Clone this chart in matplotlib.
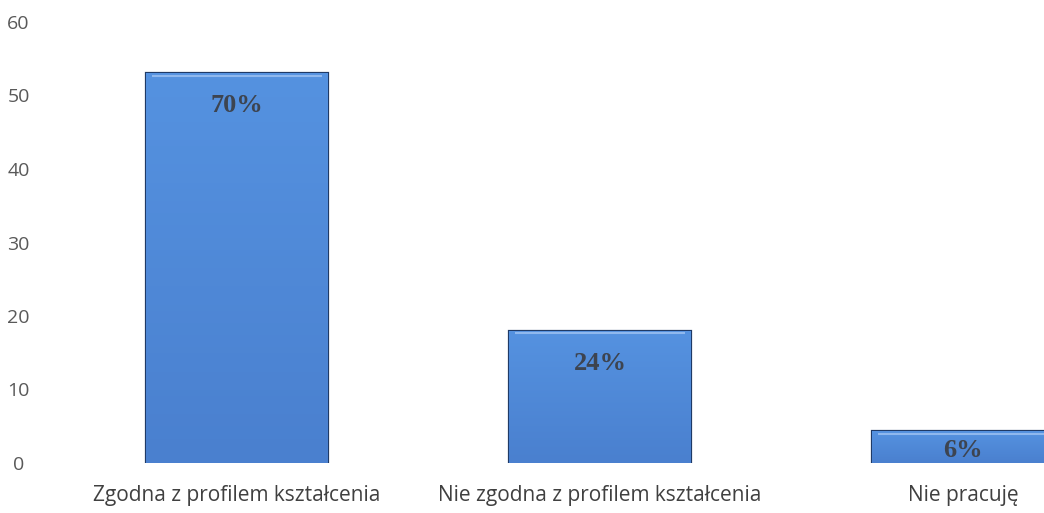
import matplotlib

matplotlib.use("Agg")
import matplotlib.pyplot as plt  # noqa: E402
import numpy as np  # noqa: E402
from matplotlib.colors import LinearSegmentedColormap  # noqa: E402

categories = ["Zgodna z profilem kształcenia", "Nie zgodna z profilem kształcenia", "Nie pracuję"]
counts = [53, 18, 4.3]
pct_labels = ["70%", "24%", "6%"]
yticks = [0, 10, 20, 30, 40, 50, 60]

fig = plt.figure(figsize=(10.44, 5.13), dpi=100)
# axes runs to the right edge so the last bar is cut off like in the scan
ax = fig.add_axes([70 / 1044, (513 - 463) / 513, (1044 - 70) / 1044, 441 / 513])
x = np.arange(len(categories))
bars = ax.bar(x, counts, width=0.5, color="#4d88d6", edgecolor="#1f3a66", linewidth=1.6, zorder=2)

grad = LinearSegmentedColormap.from_list("bluegrad", ["#4a80cf", "#5592e0"])
for bar in bars:
    x0, y0 = bar.get_x(), bar.get_y()
    w, h = bar.get_width(), bar.get_height()
    im = ax.imshow(np.linspace(0, 1, 64).reshape(-1, 1), cmap=grad, origin="lower",
                   extent=[x0, x0 + w, y0, y0 + h], aspect="auto", zorder=2.5)
    im.set_clip_path(bar)
    # light bevel at the top edge
    ax.plot([x0 + w * 0.03, x0 + w * 0.97], [y0 + h - 0.35, y0 + h - 0.35],
            color="#8fb8ee", linewidth=1.5, zorder=3, solid_capstyle="butt")

for xi, v, lab in zip(x, counts, pct_labels):
    ypos = max(v - 4.4, v * 0.4)
    ax.text(xi, ypos, lab, ha="center", va="center", fontsize=19, fontweight="bold",
            family="Liberation Serif", color="#3d4450", zorder=4)

ax.set_xlim(-0.46, 2.223)
ax.set_ylim(0, 60)
ax.set_yticks(yticks)
ax.set_yticklabels([str(t) for t in yticks], fontsize=14, family="Open Sans", color="#595959")
for t in ax.get_yticklabels():
    t.set_horizontalalignment("center")
ax.tick_params(axis="y", length=0, pad=37)
ax.set_xticks(x)
ax.set_xticklabels(categories, fontsize=15, family="Open Sans", color="#404040")
ax.tick_params(axis="x", length=0, pad=16)
for s in ax.spines.values():
    s.set_visible(False)

fig.savefig("out.png", dpi=100)
plt.close(fig)
